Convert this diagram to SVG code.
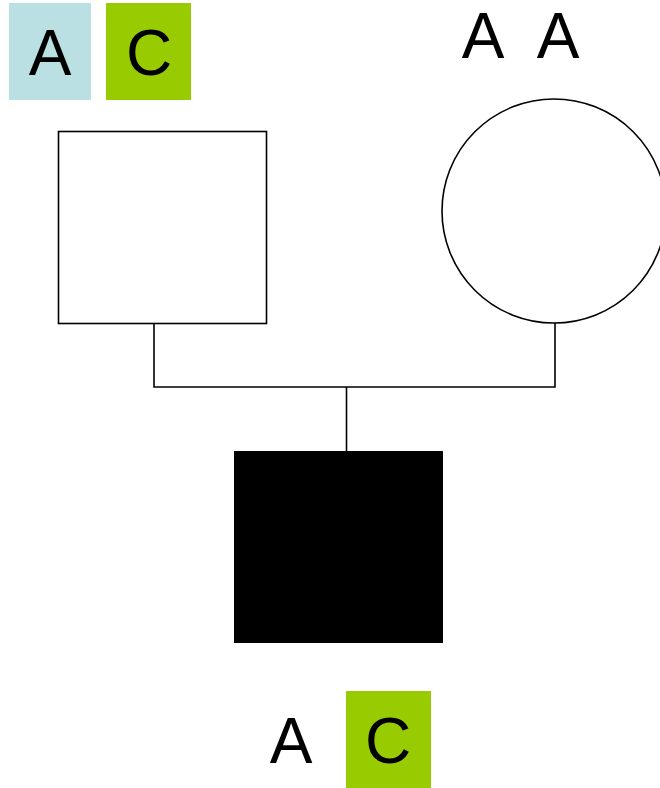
<svg xmlns="http://www.w3.org/2000/svg" width="660" height="788" viewBox="0 0 660 788">
  <style>
    .lbl { font-family: "Liberation Sans", Arial, sans-serif; font-size: 64px; fill: #000; text-anchor: middle; }
    .outline { fill: #fff; stroke: #000; stroke-width: 1.6; }
    .link { fill: none; stroke: #000; stroke-width: 1.6; }
  </style>
  <rect width="660" height="788" fill="#fff"/>

  <!-- genotype of the father -->
  <g id="father-genotype">
    <rect x="9" y="3" width="82" height="97" fill="#BBE0E3"/>
    <text class="lbl" x="50" y="75">A</text>
    <rect x="106" y="3" width="85" height="97" fill="#99CC00"/>
    <text class="lbl" x="149" y="75">C</text>
  </g>

  <!-- genotype of the mother -->
  <g id="mother-genotype">
    <text class="lbl" x="483" y="58">A</text>
    <text class="lbl" x="558" y="58">A</text>
  </g>

  <g id="father">
    <rect class="outline" x="58.5" y="131.5" width="208" height="192"/>
  </g>

  <g id="mother">
    <circle class="outline" cx="554" cy="211" r="112"/>
  </g>

  <g id="connectors">
    <polyline class="link" points="154,323 154,387 555,387 555,323"/>
    <line class="link" x1="346.5" y1="387" x2="346.5" y2="451"/>
  </g>

  <g id="child">
    <rect x="234" y="451" width="209" height="192" fill="#000"/>
  </g>

  <!-- genotype of the affected son -->
  <g id="child-genotype">
    <text class="lbl" x="291" y="763">A</text>
    <rect x="346" y="691" width="85" height="97" fill="#99CC00"/>
    <text class="lbl" x="388" y="763">C</text>
  </g>
</svg>
